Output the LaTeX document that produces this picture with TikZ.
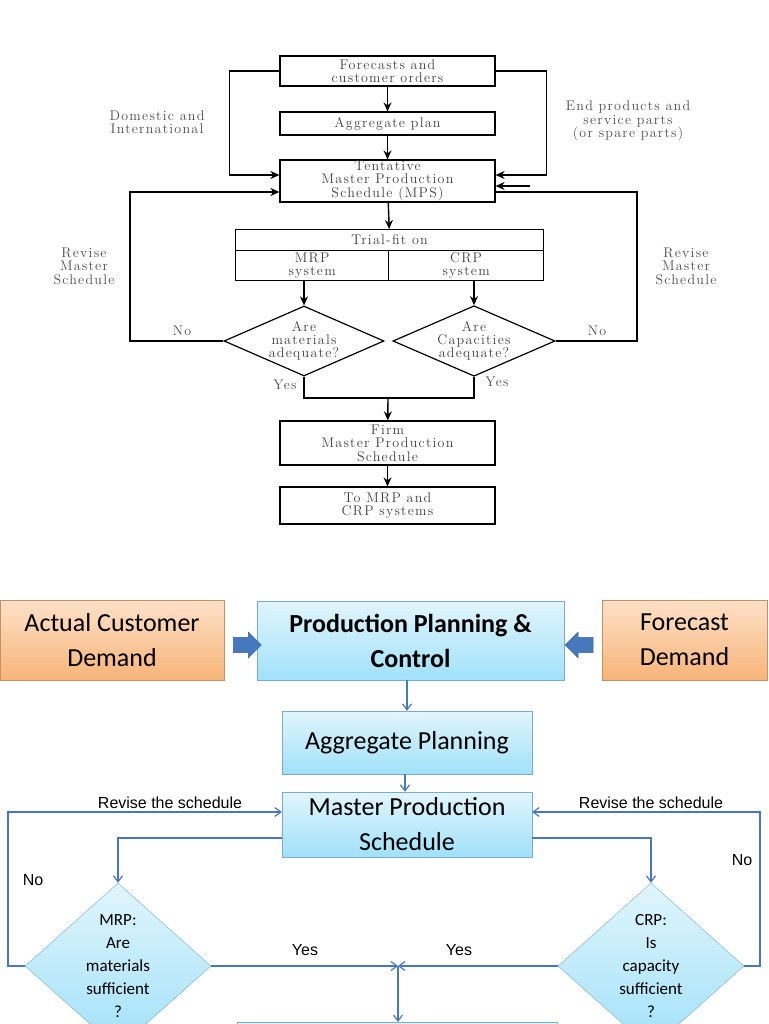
\documentclass[tikz,border=0pt]{standalone}
\usepackage{fontspec}
\newfontfamily\calib{Carlito}
\newfontfamily\arialf{Liberation Sans}
\newfontfamily\oldf{Latin Modern Roman}[LetterSpace=9]
\usetikzlibrary{positioning,shapes.geometric,shapes.arrows,arrows.meta}
\definecolor{boxblue}{RGB}{120,170,210}
\definecolor{lineblue}{RGB}{70,120,190}
\definecolor{cyanlt}{RGB}{225,245,252}
\definecolor{cyandk}{RGB}{160,225,250}
\definecolor{orglt}{RGB}{253,225,200}
\definecolor{orgdk}{RGB}{248,180,120}
\tikzset{
  oldbox/.style={draw, line width=1.2pt, inner sep=0pt, align=center, font=\oldf\fontsize{14}{13.5}\selectfont, text=black!75},
  olddia/.style={draw, line width=1.2pt, diamond, inner sep=0pt, aspect=2.3, minimum width=160pt, minimum height=70pt, align=center, font=\oldf\fontsize{14}{13}\selectfont, text=black!75},
  oldlbl/.style={align=center, font=\oldf\fontsize{14}{13.5}\selectfont, text=black!70},
  oldarr/.style={line width=1.4pt, -{Stealth[length=9pt,width=8pt]}},
  oldline/.style={line width=1.4pt},
  newbox/.style={draw=boxblue, top color=cyanlt, bottom color=cyandk, inner sep=0pt, align=center, font=\calib\fontsize{26}{35}\selectfont},
  orgbox/.style={draw=orgdk!80!black, top color=orglt, bottom color=orgdk, inner sep=0pt, align=center, font=\calib\fontsize{26}{35}\selectfont},
  newdia/.style={draw=boxblue, diamond, top color=cyanlt, bottom color=cyandk, inner sep=0pt, aspect=1.12, minimum width=186pt, minimum height=166pt, align=center, font=\calib\fontsize{17}{23}\selectfont},
  newarr/.style={draw=lineblue, line width=1.2pt, -{Straight Barb[length=6pt,width=9pt]}},
  newline/.style={draw=lineblue, line width=1.2pt},
  newlbl/.style={font=\arialf\fontsize{16}{18}\selectfont},
  blockarr/.style={single arrow, fill=lineblue, draw=lineblue!80!black, single arrow head extend=5pt, minimum height=28pt, minimum width=26pt, inner sep=7pt}
}
\begin{document}
\begin{tikzpicture}[x=1pt,y=-1pt]
\useasboundingbox (0,0) rectangle (768,1024);
\clip (0,0) rectangle (768,1024);
% old chart
\node[oldbox, minimum width=215pt, minimum height=30pt] (fco) at (387.5,71) {Forecasts and\\customer orders};
\node[oldbox, minimum width=215pt, minimum height=23pt] (agg) at (387.5,123.5) {Aggregate plan};
\node[oldbox, minimum width=215pt, minimum height=42pt] (tmps) at (387.5,181) {Tentative\\Master Production\\Schedule (MPS)};
\node[oldbox, minimum width=308pt, minimum height=21pt, anchor=north west] (trial) at (235,229) {Trial-fit on};
\node[oldbox, minimum width=153pt, minimum height=30pt, anchor=north west] (mrp) at (235,250) {MRP\\system};
\node[oldbox, minimum width=155pt, minimum height=30pt, anchor=north west] (crp) at (388,250) {CRP\\system};
\node[olddia] (mat) at (304,341) {Are\\materials\\adequate?};
\node[olddia] (cap) at (474,341) {Are\\Capacities\\adequate?};
\node[oldbox, minimum width=215pt, minimum height=44pt] (fmps) at (387.5,443) {Firm\\Master Production\\Schedule};
\node[oldbox, minimum width=215pt, minimum height=37pt] (tomrp) at (387.5,505.5) {To MRP and\\CRP systems};
\coordinate (join) at (388,398);
\coordinate (extra) at (530,186);
\draw[oldarr] (fco) -- (agg);
\draw[oldarr] (agg) -- (tmps);
\draw[oldarr] (tmps) -- (trial);
\draw[oldarr] (mrp.south -| mat.north) -- (mat);
\draw[oldarr] (crp.south -| cap.north) -- (cap);
\draw[oldarr] (fco.west) -- ++(-50,0) |- (tmps.west |- 0,175);
\draw[oldarr] (fco.east) -- ++(51,0) |- (tmps.east |- 0,175);
\draw[oldarr] (extra) -- (extra -| tmps.east);
\draw[oldarr] (mat.west) -- (130,341) |- (tmps.west |- 0,192);
\draw[oldline] (cap.east) -- (637,341) |- (tmps.east |- 0,192);
\draw[oldline] (mat.south) |- (join) -| (cap.south);
\draw[oldarr] (join) -- (fmps);
\draw[oldarr] (fmps) -- (tomrp);
\node[oldlbl] (l1) at (157,122) {Domestic and\\International};
\node[oldlbl] (l2) at (628,121) {End products and\\service parts\\(or spare parts)};
\node[oldlbl] (l3) at (84,266) {Revise\\Master\\Schedule};
\node[oldlbl] (l4) at (686,266) {Revise\\Master\\Schedule};
\node[oldlbl] (l5) at (182,331) {No};
\node[oldlbl] (l6) at (597,331) {No};
\node[oldlbl] (l7) at (285,385) {Yes};
\node[oldlbl] (l8) at (497,382) {Yes};
% new chart
\node[orgbox, minimum width=224pt, minimum height=80pt] (acd) at (112,640) {Actual Customer\\Demand};
\node[newbox, minimum width=307pt, minimum height=79pt, font=\calib\bfseries\fontsize{26}{35}\selectfont] (ppc) at (410.5,640.5) {Production Planning \&\\Control};
\node[orgbox, minimum width=165pt, minimum height=80pt] (fd) at (684.5,640) {Forecast\\Demand};
\node[blockarr] (ba1) at (243.5,645) {};
\node[blockarr, shape border rotate=180] (ba2) at (583,645) {};
\node[newbox, minimum width=250pt, minimum height=63pt] (aggp) at (407,742.5) {Aggregate Planning};
\node[newbox, minimum width=250pt, minimum height=65pt] (mps) at (407,824.5) {Master Production\\Schedule};
\node[newdia] (mrpq) at (118,966) {MRP:\\Are\\materials\\sufficient\\?};
\node[newdia] (crpq) at (651,966) {CRP:\\Is\\capacity\\sufficient\\?};
\node[newbox, minimum width=320pt, minimum height=40pt, anchor=north] (next) at (397,1022) {};
\coordinate (meet) at (398,966);
\draw[newarr] (ppc.south -| 407,0) -- (aggp.north -| 407,0);
\draw[newarr] (aggp.south -| 405,0) -- (mps.north -| 405,0);
\draw[newarr] (mrpq.west) -- (8,966) |- (mps.west |- 0,812);
\draw[newarr] (crpq.east) -- (760,966) |- (mps.east |- 0,812);
\draw[newarr] (mps.west |- 0,838) -| (mrpq.north);
\draw[newarr] (mps.east |- 0,838) -| (crpq.north);
\draw[newarr] (mrpq.east) -- (meet);
\draw[newarr] (crpq.west) -- (meet);
\draw[newarr] (meet) -- (next.north -| meet);
\node[newlbl] (r1) at (170,803) {Revise the schedule};
\node[newlbl] (r2) at (651,803) {Revise the schedule};
\node[newlbl] (n1) at (33,880) {No};
\node[newlbl] (n2) at (742,860) {No};
\node[newlbl] (y1) at (305,950) {Yes};
\node[newlbl] (y2) at (459,950) {Yes};
\end{tikzpicture}
\end{document}
